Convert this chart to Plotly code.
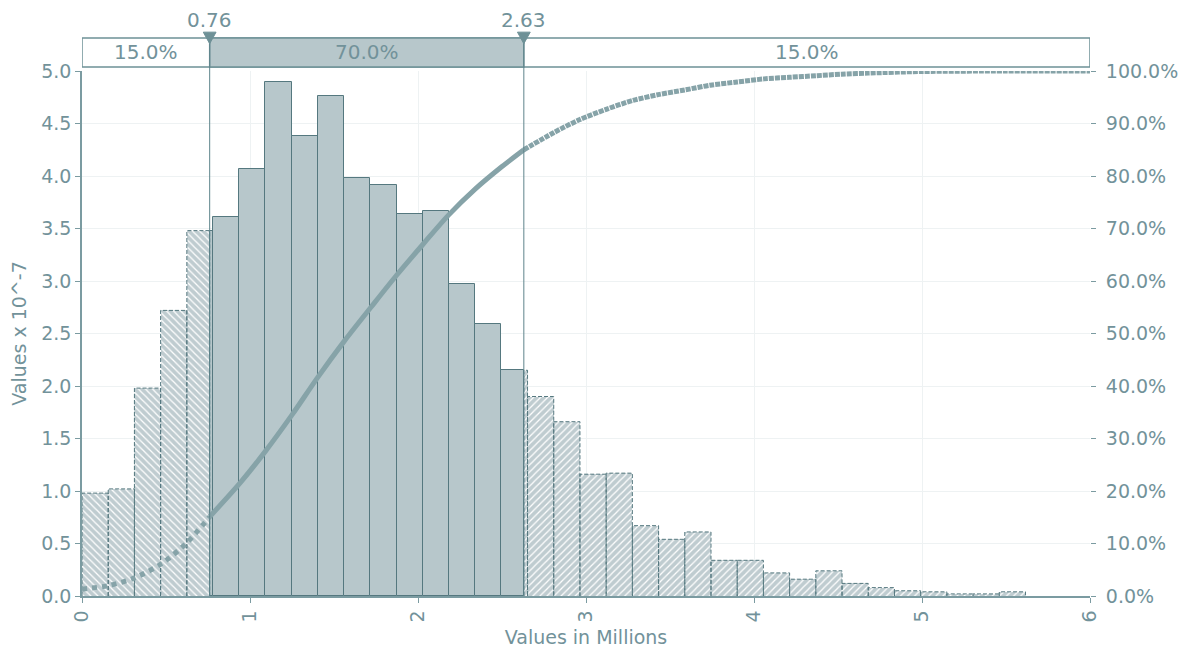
import plotly.graph_objects as go

# ---------------- data ----------------
bin_start = 0.0
bin_width = 0.156
heights = [0.98, 1.02, 1.98, 2.72, 3.48, 3.61, 4.07, 4.90, 4.38, 4.76,
           3.98, 3.91, 3.64, 3.67, 2.97, 2.59, 2.15, 1.90, 1.66, 1.16,
           1.17, 0.67, 0.54, 0.61, 0.34, 0.34, 0.22, 0.16, 0.24, 0.12,
           0.08, 0.05, 0.04, 0.02, 0.02, 0.04]
p_low = 0.76
p_high = 2.63
pct_labels = ["15.0%", "70.0%", "15.0%"]
cdf_x = [0.0, 0.16, 0.31, 0.47, 0.62, 0.76, 0.94, 1.09, 1.25, 1.40, 1.56, 1.72,
         1.87, 2.03, 2.18, 2.34, 2.50, 2.63, 2.81, 2.96, 3.12, 3.28, 3.43, 3.59,
         3.74, 3.90, 4.06, 4.21, 4.37, 4.52, 4.68, 5.00, 5.50, 6.00]
cdf_y = [0.013, 0.020, 0.034, 0.061, 0.100, 0.151, 0.215, 0.275, 0.345, 0.415, 0.485, 0.550,
         0.610, 0.670, 0.725, 0.775, 0.818, 0.850, 0.883, 0.907, 0.927, 0.944, 0.955, 0.964,
         0.973, 0.979, 0.985, 0.988, 0.991, 0.994, 0.996, 0.999, 1.000, 1.000]
x_ticks = [0, 1, 2, 3, 4, 5, 6]

# ---------------- styles ----------------
TEXT = "#72929a"
AXIS = "#7b9ba1"
DARK = "#55787f"
SOLID = "#b7c7cb"
HATCH_BG = "#bfccd0"
LINEC = "#86a3a8"
GRID = "#eef2f3"
FONT = "DejaVu Sans"
FS = 19
FA = 20

# split bins into segments (left hatched / middle solid / right hatched)
segs = {"left": [], "mid": [], "right": []}
for i, h in enumerate(heights):
    l = bin_start + i * bin_width
    r = l + bin_width
    for key, lo, hi in (("left", -1e9, p_low), ("mid", p_low, p_high), ("right", p_high, 1e9)):
        a, b = max(l, lo), min(r, hi)
        if b > a:
            segs[key].append((a, b, h))

fig = go.Figure()

def add_bars(seglist, kind):
    xs = [(a + b) / 2 for a, b, h in seglist]
    ws = [b - a for a, b, h in seglist]
    ys = [h for a, b, h in seglist]
    if kind == "mid":
        fig.add_trace(go.Bar(x=xs, y=ys, width=ws, marker=dict(color=SOLID, line=dict(color=DARK, width=1)),
                             hoverinfo="skip", showlegend=False))
    else:
        shape = "\\" if kind == "left" else "/"
        fig.add_trace(go.Bar(x=xs, y=ys, width=ws,
                             marker=dict(color=HATCH_BG, line=dict(width=0),
                                         pattern=dict(shape=shape, fgcolor="white", bgcolor=HATCH_BG,
                                                      fillmode="replace", size=5, solidity=0.25)),
                             hoverinfo="skip", showlegend=False))
        px, py = [], []
        for a, b, h in seglist:
            px += [a, a, b, b, None]
            py += [0, h, h, 0, None]
        fig.add_trace(go.Scatter(x=px, y=py, mode="lines", line=dict(color=DARK, width=1, dash="4px,2px"),
                                 hoverinfo="skip", showlegend=False))

add_bars(segs["left"], "left")
add_bars(segs["right"], "right")
add_bars(segs["mid"], "mid")

# cumulative line split in three parts
def part(lo, hi):
    xs, ys = [], []
    for x, y in zip(cdf_x, cdf_y):
        if lo <= x <= hi:
            xs.append(x); ys.append(y)
    return xs, ys

for lo, hi, dash in ((-1, p_low, "dot"), (p_low, p_high, "solid"), (p_high, 99, "5px,1px")):
    xs, ys = part(lo, hi)
    fig.add_trace(go.Scatter(x=xs, y=ys, yaxis="y2", mode="lines",
                             line=dict(color=LINEC, width=5, dash=dash, shape="spline", smoothing=0.8),
                             hoverinfo="skip", showlegend=False))

band_lo, band_hi = 1.0076, 1.063
tri_top, tri_bot = 1.074, 1.052
tri_half = 0.038

shapes = [
    dict(type="rect", xref="x", yref="paper", x0=0, x1=6, y0=band_lo, y1=band_hi,
         line=dict(color="#6e9197", width=1.5), fillcolor="white", layer="below"),
    dict(type="rect", xref="x", yref="paper", x0=p_low, x1=p_high, y0=band_lo, y1=band_hi,
         line=dict(color="#6e9197", width=1.5), fillcolor=SOLID),
    dict(type="line", xref="x", yref="paper", x0=p_low, x1=p_low, y0=0, y1=band_hi,
         line=dict(color="#5e848b", width=1)),
    dict(type="line", xref="x", yref="paper", x0=p_high, x1=p_high, y0=0, y1=band_hi,
         line=dict(color="#5e848b", width=1)),
]
for v in (p_low, p_high):
    shapes.append(dict(type="path", xref="x", yref="paper",
                       path=f"M {v - tri_half},{tri_top} L {v + tri_half},{tri_top} L {v},{tri_bot} Z",
                       fillcolor="#6e9197", line=dict(color="#6e9197", width=1)))

annotations = []
mids = [(0 + p_low) / 2, (p_low + p_high) / 2, (p_high + 6) / 2]
for m, t in zip(mids, pct_labels):
    annotations.append(dict(x=m, y=(band_lo + band_hi) / 2, xref="x", yref="paper", text=t, showarrow=False,
                            font=dict(family=FONT, size=FA, color=TEXT), yanchor="middle"))
for v in (p_low, p_high):
    annotations.append(dict(x=v, y=1.098, xref="x", yref="paper", text=f"{v:.2f}", showarrow=False,
                            font=dict(family=FONT, size=FA, color=TEXT), yanchor="middle",
                            height=22, borderpad=0))

fig.update_layout(
    width=1180, height=641,
    margin=dict(l=74, r=98, t=63, b=53),
    plot_bgcolor="white", paper_bgcolor="white",
    barmode="overlay", bargap=0,
    font=dict(family=FONT, size=FS, color=TEXT),
    shapes=shapes, annotations=annotations,
    xaxis=dict(range=[0, 6], tickvals=x_ticks, ticktext=[str(t) for t in x_ticks], tickangle=-90,
               showgrid=True, gridcolor=GRID, gridwidth=1, zeroline=False,
               showline=True, linecolor=AXIS, linewidth=1.5, ticks="outside", ticklen=5, tickcolor=AXIS,
               title=dict(text="Values in Millions", font=dict(family=FONT, size=FS, color=TEXT), standoff=9),
               tickfont=dict(family=FONT, size=FS, color=TEXT), automargin=False),
    yaxis=dict(range=[0, 5], dtick=0.5, tickformat=".1f", showgrid=True, gridcolor=GRID, gridwidth=1,
               zeroline=False, showline=True, linecolor=AXIS, linewidth=1.5, ticks="outside", ticklen=5,
               tickcolor=AXIS, title=dict(text="Values x 10^-7", font=dict(family=FONT, size=FS, color=TEXT), standoff=13),
               tickfont=dict(family=FONT, size=FS, color=TEXT), automargin=False),
    yaxis2=dict(range=[0, 1], dtick=0.1, tickformat=".1%", overlaying="y", side="right", showgrid=False,
                zeroline=False, showline=False, ticks="outside", ticklen=5, tickcolor=AXIS,
                ticklabelstandoff=6,
                tickfont=dict(family=FONT, size=FS, color=TEXT), automargin=False),
)

fig.write_html("out.html")
